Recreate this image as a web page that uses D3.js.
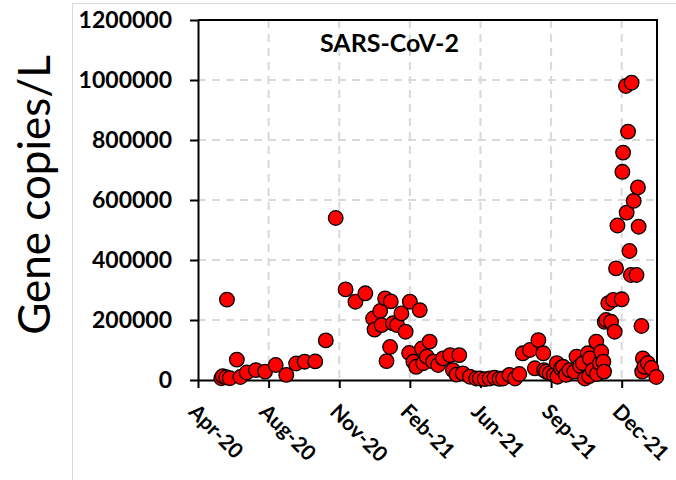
<!DOCTYPE html>
<html>
<head>
<meta charset="utf-8">
<script src="https://cdn.jsdelivr.net/npm/d3@7"></script>
<style>
  html, body { margin: 0; padding: 0; background: #fff; }
  svg { display: block; }
  text { font-family: Lato, "Open Sans", "Liberation Sans", sans-serif; }
</style>
</head>
<body>
<svg id="chart" width="676" height="480"></svg>
<script>
// ---------------- data ----------------
const chartTitle = "SARS-CoV-2";
const yAxisTitle = "Gene copies/L";

const sampleDates = [
  "2020-05-31","2020-06-02","2020-06-07","2020-06-08","2020-06-12","2020-06-22","2020-06-27",
  "2020-07-06","2020-07-19","2020-08-01","2020-08-16","2020-08-31","2020-09-14","2020-09-26",
  "2020-10-11","2020-10-26","2020-11-09","2020-11-23","2020-12-07","2020-12-21",
  "2021-01-01","2021-01-03","2021-01-11","2021-01-13","2021-01-18","2021-01-20","2021-01-25",
  "2021-01-26","2021-01-29","2021-02-04","2021-02-10","2021-02-16","2021-02-22","2021-02-21",
  "2021-02-27","2021-03-03","2021-03-08","2021-03-11","2021-03-13","2021-03-18","2021-03-22",
  "2021-03-27","2021-04-03","2021-04-10","2021-04-20","2021-04-24","2021-04-29","2021-05-03",
  "2021-05-08","2021-05-18","2021-05-27","2021-06-01","2021-06-08","2021-06-15","2021-06-22",
  "2021-06-29","2021-07-04","2021-07-13","2021-07-21","2021-07-27","2021-08-01","2021-08-11",
  "2021-08-18","2021-08-23","2021-08-30","2021-08-31","2021-09-03","2021-09-08","2021-09-14",
  "2021-09-18","2021-09-19","2021-09-24","2021-09-27","2021-10-01","2021-10-06","2021-10-13",
  "2021-10-16","2021-10-21","2021-10-25","2021-10-28","2021-11-01","2021-11-03","2021-11-04",
  "2021-11-08","2021-11-13","2021-11-14","2021-11-18","2021-11-20","2021-11-23","2021-11-24",
  "2021-11-25","2021-11-27","2021-11-30","2021-12-04","2021-12-07","2021-12-09","2021-12-11",
  "2021-12-13","2021-12-19","2021-12-20","2021-12-21","2021-12-25","2021-12-26","2021-12-28",
  "2021-12-30","2022-01-01","2022-01-02","2022-01-05","2022-01-09","2022-01-11","2022-01-12",
  "2022-01-16","2022-01-17","2022-01-18","2022-01-20","2022-01-25","2022-01-30","2022-02-06"
];
const geneCopies = [
  6000,13000,9000,268000,6000,68000,10000,
  25000,33000,28000,50000,17000,55000,61000,
  62000,132000,540000,302000,261000,289000,
  205000,168000,230000,183000,272000,63000,110000,
  262000,189000,183000,222000,161000,261000,90000,
  61000,44000,233000,105000,56000,78000,128000,
  61000,50000,72000,83000,33000,18000,83000,
  22000,11000,5000,5000,3000,5000,8000,
  4000,5000,17000,5000,20000,89000,100000,
  39000,133000,89000,33000,28000,22000,17000,
  56000,11000,39000,44000,17000,33000,28000,
  78000,47000,56000,5000,89000,13000,72000,
  33000,128000,20000,56000,94000,61000,28000,
  194000,200000,256000,194000,267000,161000,372000,
  515000,269000,694000,758000,980000,558000,828000,
  430000,350000,991000,597000,350000,642000,511000,
  180000,28000,72000,44000,56000,40000,10000
];

const xDomain = ["2020-04-28", "2022-02-07"];
const tickDates = ["2020-04-28","2020-08-06","2020-11-14","2021-02-22","2021-06-02","2021-09-10","2021-12-19"];
const tickLabels = ["Apr-20","Aug-20","Nov-20","Feb-21","Jun-21","Sep-21","Dec-21"];
const yTicks = [0, 200000, 400000, 600000, 800000, 1000000, 1200000];

// ---------------- chart ----------------
const parse = d3.timeParse("%Y-%m-%d");
const points = sampleDates.map((d, i) => ({ date: parse(d), value: geneCopies[i] }));

const L = 198, R = 657, T = 20, B = 380;
const svg = d3.select("#chart");

// outer chart-area border
svg.append("rect").attr("x", 72.5).attr("y", 3.5).attr("width", 610).attr("height", 490)
  .attr("fill", "none").attr("stroke", "#d9d9d9").attr("stroke-width", 1);

const x = d3.scaleTime().domain(xDomain.map(parse)).range([L, R]);
const y = d3.scaleLinear().domain([0, 1200000]).range([B, T]);

// grid
const grid = svg.append("g").attr("stroke", "#d9d9d9").attr("stroke-width", 2).attr("stroke-dasharray", "8,6");
grid.selectAll("line.h").data(yTicks.filter(v => v > 0 && v < 1200000)).join("line")
  .attr("x1", L).attr("x2", R).attr("y1", d => y(d)).attr("y2", d => y(d));
grid.selectAll("line.v").data(tickDates.slice(1).map(parse)).join("line")
  .attr("x1", d => x(d)).attr("x2", d => x(d)).attr("y1", T).attr("y2", B);

// axes
const yAxis = svg.append("g").attr("transform", `translate(${L},0)`)
  .call(d3.axisLeft(y).tickValues(yTicks).tickSize(8).tickSizeOuter(0).tickPadding(18).tickFormat(d3.format("d")));
yAxis.selectAll("text").attr("font-size", 23).attr("font-weight", "bold").attr("fill", "#000")
  .style("font-family", "Lato, 'Open Sans', sans-serif");

const xAxis = svg.append("g").attr("transform", `translate(0,${B})`)
  .call(d3.axisBottom(x).tickValues(tickDates.map(parse)).tickSize(8).tickSizeOuter(0)
    .tickFormat((d, i) => tickLabels[i]));
xAxis.selectAll("text")
  .attr("font-size", 21).attr("font-weight", "bold").attr("fill", "#000")
  .style("font-family", "Lato, 'Open Sans', sans-serif")
  .attr("text-anchor", "start")
  .attr("y", 0).attr("dy", 0)
  .attr("transform", "translate(-11,33) rotate(45)");

[yAxis, xAxis].forEach(a => {
  a.select(".domain").attr("stroke", "#000").attr("stroke-width", 2);
  a.selectAll(".tick line").attr("stroke", "#000").attr("stroke-width", 2);
});

// top and right border
svg.append("path").attr("d", `M${L},${T}H${R}V${B}`).attr("fill", "none")
  .attr("stroke", "#000").attr("stroke-width", 2);

// points
svg.append("g").selectAll("circle").data(points).join("circle")
  .attr("cx", d => x(d.date)).attr("cy", d => y(d.value)).attr("r", 7.3)
  .attr("fill", "#ff0000").attr("stroke", "#000").attr("stroke-width", 1.3);

// title
svg.append("text").attr("x", 320).attr("y", 52).attr("font-size", 25).attr("font-weight", "bold")
  .attr("fill", "#000").text(chartTitle);

// y axis title
svg.append("text").attr("transform", `translate(50,195) rotate(-90)`)
  .attr("text-anchor", "middle").attr("font-size", 44).attr("fill", "#000").text(yAxisTitle);
</script>
</body>
</html>
